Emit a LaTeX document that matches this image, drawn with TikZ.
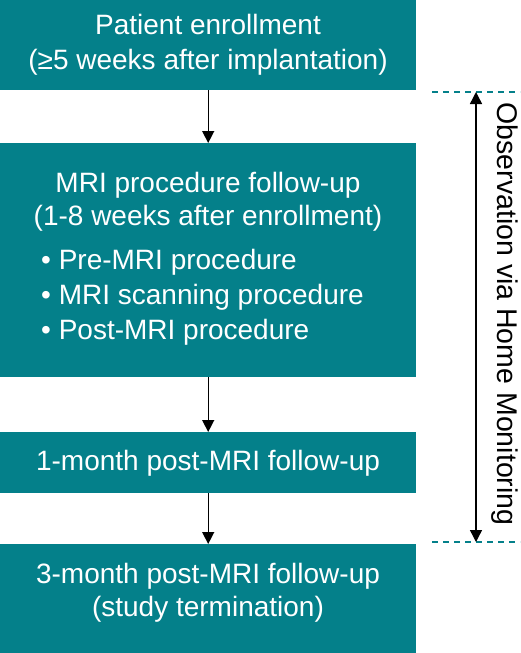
\documentclass[tikz,border=0pt]{standalone}
\usepackage{fontspec}
\setmainfont{Liberation Sans}
\usetikzlibrary{arrows.meta}
\definecolor{tealbox}{RGB}{4,128,138}
\begin{document}
\begin{tikzpicture}[x=1pt,y=-1pt,
  box/.style={fill=tealbox, minimum width=416pt, inner sep=0pt, anchor=north west},
  txt/.style={text=white, font=\fontsize{28}{34}\selectfont, inner sep=0pt, anchor=base},
  btxt/.style={txt, anchor=base west},
  arr/.style={draw=black, line width=1.4pt, -{Triangle[length=12pt,width=12pt]}},
  darr/.style={draw=black, line width=1.4pt, {Triangle[length=12pt,width=12pt]}-{Triangle[length=12pt,width=12pt]}},
  dash line/.style={draw=tealbox, line width=1.2pt, dash pattern=on 6pt off 5pt}]
\useasboundingbox (0,0) rectangle (520,653);
% boxes
\node[box, minimum height=90pt] (b1) at (0,0) {};
\node[box, minimum height=234pt] (b2) at (0,143) {};
\node[box, minimum height=61pt] (b3) at (0,432) {};
\node[box, minimum height=109pt] (b4) at (0,544) {};
% texts
\node[txt] (t1a) at (208,34) {Patient enrollment};
\node[txt] (t1b) at (208,69) {(≥5 weeks after implantation)};
\node[txt] (t2a) at (208,192) {MRI procedure follow-up};
\node[txt] (t2b) at (208,225) {(1-8 weeks after enrollment)};
\node[btxt] (t2c) at (41,269) {• Pre-MRI procedure};
\node[btxt] (t2d) at (41,304) {• MRI scanning procedure};
\node[btxt] (t2e) at (41,339) {• Post-MRI procedure};
\node[txt] (t3a) at (208,470) {1-month post-MRI follow-up};
\node[txt] (t4a) at (208,583) {3-month post-MRI follow-up};
\node[txt] (t4b) at (208,616) {(study termination)};
% arrows
\draw[arr] (b1.south) -- (b2.north);
\draw[arr] (b2.south) -- (b3.north);
\draw[arr] (b3.south) -- (b4.north);
% observation window
\coordinate (d1a) at (432,92);
\coordinate (d1b) at (520,92);
\coordinate (d2a) at (432,542);
\coordinate (d2b) at (520,542);
\coordinate (o1) at (476,92);
\coordinate (o2) at (476,542);
\draw[dash line] (d1a) -- (d1b);
\draw[dash line] (d2a) -- (d2b);
\draw[darr] (o1) -- (o2);
\node[font=\fontsize{28.5}{34}\selectfont, rotate=-90, inner sep=0pt] (obs) at (505,314) {Observation via Home Monitoring};
\end{tikzpicture}
\end{document}
